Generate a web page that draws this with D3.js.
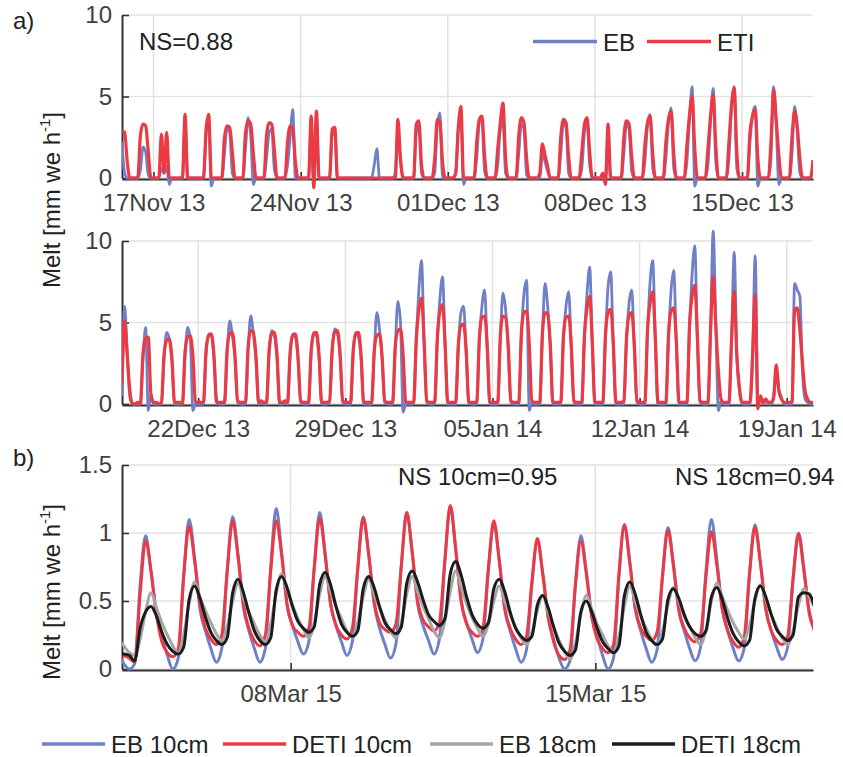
<!DOCTYPE html>
<html>
<head>
<meta charset="utf-8">
<script src="https://cdn.jsdelivr.net/npm/d3@7"></script>
<style>
  body { margin: 0; background: #fff; }
  svg { font-family: "Liberation Sans", Arial, sans-serif; }
  .axis text { font-family: "Liberation Sans", Arial, sans-serif; font-size: 24px; fill: #404040; }
  .axis .domain { stroke: #333; stroke-width: 2; }
  .axis .tick line { stroke: #333; stroke-width: 1.6; }
  .grid line { stroke: #e2e2e2; stroke-width: 1.5; }
  .label { font-size: 24px; fill: #222; }
</style>
</head>
<body>
<div id="chart"></div>
<script>
// ---------- data (3-hourly values) ----------
const STEP = 3 * 3600 * 1000;

// panel a (top): 15 Nov 2013 12:00 -> 18 Dec 2013 09:00, one row per day (00..21 h)
const startA1 = Date.UTC(2013, 10, 15, 12);
const etiA1 = [
  2.9, 2.8, 1.0, 0,
  0, 0, 0, 2.6, 3.3, 3.2, 1.6, 0,
  0, 0, 0, 2.7, 0.3, 2.8, 0, 0,
  0, 0, 0, 0, 3.9, 0, 0, 0,
  0, 0, 0, 0, 3.0, 3.9, 0, 0,
  0, 0, 0, 2.5, 3.2, 3.1, 1.6, 0,
  0, 0, 0, 2.8, 3.5, 3.3, 1.5, 0,
  0, 0, 0, 2.6, 3.4, 3.3, 1.7, 0,
  0, 0, 0, 2.2, 3.2, 3.0, 1.0, 0,
  0, 0, 0, 0, 3.8, -0.6, 4.1, 0,
  0, 0, 0, 0, 3.0, 3.1, 0, 0,
  0, 0, 0, 0, 0, 0, 0, 0,
  0, 0, 0, 0, 0, 0, 0, 0,
  0, 0, 0, 0, 0, 3.6, 1.2, 0,
  0, 0, 0, 0, 3.3, 3.5, 0.8, 0,
  0, 0, 0, 1.2, 3.6, 3.4, 1.0, 0,
  0, 0, 0, 0.3, 3.1, 4.4, 0, 0,
  0, 0, 0, 2.2, 3.6, 3.8, 1.4, 0,
  0, 0, 0, 1.8, 3.4, 4.6, 1.2, 0,
  0, 0, 0, 2.6, 3.7, 3.4, 1.2, 0,
  0, 0, 0, 0.3, 2.1, 1.4, 0.7, 0,
  0, 0, 0, 2.5, 3.6, 3.4, 1.3, 0,
  0, 0, 0, 1.6, 3.3, 3.7, 1.6, 0,
  0, 0, 0, 0.3, -0.4, 3.3, 0, 0,
  0, 0, 0, 2.5, 3.5, 3.3, 1.3, 0,
  0, 0, 0, 2.0, 3.4, 3.8, 1.5, 0,
  0, 0, 0, 2.2, 3.6, 4.1, 1.5, 0,
  0, 0, 0, 2.0, 3.9, 5.0, 1.8, 0,
  0, 0, 0, 1.8, 3.8, 5.1, 2.0, 0,
  0, 0, 0, 2.2, 4.5, 5.5, 1.6, 0,
  0, 0, 0, 2.8, 3.8, 4.2, 1.2, 0,
  0, 0, 0, 2.2, 5.4, 3.6, 1.4, 0,
  0, 0, 0, 2.5, 4.1, 3.2, 1.2, 0,
  0, 0, 0, 1.1
];
const ebA1 = [
  2.2, 0.3, 0, 0,
  0, 0, 0, 0.5, 1.9, 1.6, 0.2, 0,
  0, 0, 0, 0.6, 0.3, 0.7, -0.4, 0,
  0, 0, 0, 0, 3.4, 0, 0, 0,
  0, 0, 0, 0, 2.6, 3.6, -0.5, 0,
  0, 0, 0, 1.5, 3.1, 2.8, 0.3, 0,
  0, 0, 0, 1.8, 3.7, 2.6, -0.4, 0,
  0, 0, 0, 1.2, 2.8, 3.0, 0.5, 0,
  0, 0, 0, 0.8, 2.5, 4.2, 0, 0,
  0, 0, 0, 0, 3.2, -0.3, 3.6, 0,
  0, 0, 0, 0, 2.6, 2.9, 0, 0,
  0, 0, 0, 0, 0, 0, 0, 0,
  0, 0, 0, 0, 0.8, 1.8, 0, 0,
  0, 0, 0, 0, 0.3, 2.6, 1.0, 0,
  0, 0, 0, 0, 2.8, 3.2, 0.3, 0,
  0, 0, 0, 0.3, 3.2, 4.0, 0, 0,
  0, 0, 0, 0.3, 3.0, 3.6, -0.4, 0,
  0, 0, 0, 1.2, 3.4, 3.6, 0.4, 0,
  0, 0, 0, 0.8, 3.0, 3.5, 0.3, 0,
  0, 0, 0, 1.5, 3.3, 3.0, 0.2, 0,
  0, 0, 0, 0, 1.5, 1.0, 0.4, 0,
  0, 0, 0, 1.5, 3.4, 3.1, 0.3, 0,
  0, 0, 0, 0.6, 2.8, 3.5, 0.8, 0,
  0, 0, 0, 0.2, 0, 2.5, 0, 0,
  0, 0, 0, 1.5, 3.3, 3.0, 0.4, 0,
  0, 0, 0, 1.0, 3.2, 3.9, 0.6, 0,
  0, 0, 0, 1.2, 3.4, 4.3, 0.6, 0,
  0, 0, 0, 1.0, 3.6, 5.6, -0.5, 0,
  0, 0, 0, 0.8, 3.4, 5.5, 1.0, 0,
  0, 0, 0, 1.2, 4.3, 5.6, 0.6, 0,
  0, 0, 0, 2.2, 3.9, 4.4, -0.5, 0,
  0, 0, 0, 1.2, 5.6, 3.3, -0.4, 0,
  0, 0, 0, 1.5, 4.4, 2.8, 0.3, 0,
  0, 0, 0, 0.6
];

// panel a (bottom): 18 Dec 2013 09:00 -> 20 Jan 2014 06:00
const startA2 = Date.UTC(2013, 11, 18, 9);
const etiA2 = [
  1.2, 5.1, 3.0, 0.8, 0,
  0, 0.1, 0, 3.1, 4.0, 4.1, 0.6, 0.1,
  0.1, 0, 0.1, 3.0, 3.9, 4.0, 2.8, 0.1,
  0.1, 0.1, 0, 3.2, 4.1, 4.2, 2.9, 0.1,
  0.1, 0.1, 0.1, 3.3, 4.2, 4.3, 3.0, 0.1,
  0.1, 0.1, 0.1, 3.3, 4.3, 4.4, 3.0, 0.2,
  0.1, 0.1, 0.1, 3.5, 4.5, 4.4, 2.9, 0.1,
  0.2, 0.1, 0.1, 3.3, 4.3, 4.4, 3.0, 0.1,
  0.1, 0.2, 0.1, 3.2, 4.2, 4.3, 2.9, 0.2,
  0.1, 0.1, 0.1, 3.3, 4.3, 4.4, 3.0, 0.1,
  0.1, 0.1, 0.2, 3.4, 4.4, 4.5, 3.1, 0.2,
  0.1, 0.1, 0.1, 3.3, 4.3, 4.4, 3.0, 0.1,
  0.1, 0.1, 0.1, 3.2, 4.2, 4.3, 2.9, 0.2,
  0.1, 0.1, 0.1, 3.5, 4.5, 4.6, 3.0, 0.1,
  0.1, 0.1, 0.1, 4.0, 5.8, 6.5, 3.8, 0.2,
  0.1, 0.1, 0.1, 4.0, 5.7, 6.1, 3.6, 0.1,
  0.1, 0.1, 0.1, 3.6, 4.8, 4.9, 3.3, 0.1,
  0.1, 0.1, 0.1, 4.0, 5.3, 5.4, 3.6, 0.1,
  0.1, 0.1, 0.1, 4.2, 5.4, 5.3, 3.6, 0.2,
  0.1, 0.1, 0.1, 4.3, 5.6, 5.7, 3.7, 0.2,
  0.1, 0.1, 0.1, 4.3, 5.6, 5.5, 3.7, 0.1,
  0.1, 0.1, 0.1, 4.1, 5.3, 5.4, 3.6, 0.2,
  0.1, 0.1, 0.1, 4.2, 5.9, 6.6, 3.8, 0.1,
  0.1, 0.1, 0.1, 4.2, 5.6, 5.8, 3.7, 0.1,
  0.1, 0.1, 0.2, 4.0, 5.4, 5.6, 3.6, 0.2,
  0.1, 0.1, 0.1, 4.5, 6.2, 6.9, 4.0, 0.1,
  0.1, 0.1, 0.1, 4.2, 5.7, 5.9, 3.8, 0.1,
  0.1, 0.1, 0.1, 4.8, 6.6, 7.3, 4.1, 0.2,
  0.1, 0.1, 0.1, 4.5, 7.8, 4.8, 2.0, 0.3,
  0.1, 0.1, 0.1, 4.0, 6.9, 3.0, 1.0, 0.1,
  0.1, 0.1, 0.1, 3.0, 6.7, -0.3, 0.5, 0.1,
  0.3, 0.1, 0.1, 0.4, 2.4, 0.8, 0.3, 0.1,
  0.1, 0.1, 0.1, 5.7, 5.9, 4.5, 2.5, 0.8,
  0.3, 0.1, 0.1
];
const ebA2 = [
  0.5, 6.0, 3.0, 0.4, 0,
  0, 0, 0, 2.8, 4.7, -0.4, 0.6, 0,
  0, 0, 0, 2.8, 4.4, 4.0, 2.6, 0,
  0, 0, 0, 3.0, 4.7, 4.0, -0.4, 0,
  0, 0, 0, 3.1, 4.3, 4.2, 2.8, 0.2,
  0, 0, 0, 3.1, 5.1, 4.2, 2.8, 0.1,
  0, 0, 0, 3.3, 5.4, 4.3, 2.7, 0,
  0.1, 0, 0, 3.1, 4.5, 4.2, 2.8, 0,
  0, 0.1, 0, 3.0, 4.3, 4.1, 2.7, 0.1,
  0, 0, 0, 3.1, 4.4, 4.2, 2.8, 0,
  0, 0, 0.1, 3.2, 4.6, 4.3, 2.9, 0.1,
  0, 0, 0, 3.1, 4.4, 4.1, 2.8, 0,
  0, 0, 0, 3.2, 5.6, 4.6, 2.8, 0.1,
  0, 0, 0, 3.4, 6.3, 5.0, -0.5, 0,
  0, 0, 0, 3.8, 7.0, 8.8, 3.6, 0.1,
  0, 0, 0, 3.8, 6.5, 7.8, 3.4, 0,
  0, 0, 0, 3.4, 5.6, 6.0, 3.1, 0.1,
  0, 0, 0, 3.8, 6.0, 7.0, 3.4, 0,
  0, 0, 0, 4.0, 6.8, 5.8, 3.4, 0.1,
  0, 0, 0, 4.1, 6.8, 7.6, -0.4, 0.1,
  0, 0, 0, 4.1, 7.4, 6.0, 3.5, 0,
  0, 0, 0, 3.9, 6.0, 6.9, 3.4, 0.1,
  0, 0, 0, 4.0, 6.8, 8.4, 3.6, 0,
  0, 0, 0, 4.0, 7.2, 8.1, 3.5, 0,
  0, 0, 0, 3.8, 6.2, 7.0, 3.4, 0.1,
  0, 0, 0, 4.3, 7.5, 8.8, 3.8, 0,
  0, 0, 0, 4.0, 7.0, 8.2, 3.6, 0,
  0, 0, 0, 4.6, 8.0, 9.7, 3.9, 0.1,
  0, 0, 0, 4.3, 10.6, 5.0, -0.4, 0.2,
  0, 0, 0, 3.8, 9.3, 3.0, 0.8, 0,
  0, 0, 0, 2.8, 9.1, 0.4, 0.4, 0,
  0.2, 0, 0, 0.3, 2.2, 0.9, 0.4, 0,
  0, 0, 0, 7.4, 7.0, 6.6, 2.0, 0.3,
  0.1, 0, 0
];

// panel b: 04 Mar 2015 01:00 -> 20 Mar 2015 01:00, rows = 01,04,...,22 h
const startB = Date.UTC(2015, 2, 4, 1);
const eb10B = [
  0.12, 0.04, 0.00, 0.04, 0.62, 0.98, 0.72, 0.40,
  0.24, 0.10, 0.00, 0.08, 0.68, 1.10, 0.82, 0.44,
  0.28, 0.15, 0.05, 0.15, 0.72, 1.12, 0.84, 0.45,
  0.28, 0.15, 0.05, 0.15, 0.75, 1.18, 0.86, 0.47,
  0.32, 0.20, 0.11, 0.20, 0.75, 1.15, 0.85, 0.48,
  0.32, 0.20, 0.10, 0.20, 0.74, 1.12, 0.84, 0.48,
  0.30, 0.18, 0.08, 0.18, 0.75, 1.15, 0.86, 0.48,
  0.32, 0.21, 0.11, 0.22, 0.78, 1.20, 0.88, 0.50,
  0.34, 0.22, 0.12, 0.22, 0.72, 1.07, 0.80, 0.44,
  0.28, 0.15, 0.05, 0.14, 0.62, 0.94, 0.70, 0.38,
  0.22, 0.08, 0.00, 0.06, 0.62, 0.98, 0.72, 0.40,
  0.24, 0.10, 0.00, 0.08, 0.68, 1.06, 0.78, 0.44,
  0.28, 0.15, 0.05, 0.14, 0.68, 1.04, 0.78, 0.43,
  0.28, 0.15, 0.06, 0.16, 0.72, 1.10, 0.80, 0.44,
  0.28, 0.15, 0.06, 0.15, 0.70, 1.06, 0.78, 0.44,
  0.28, 0.16, 0.07, 0.16, 0.66, 1.00, 0.74, 0.40,
  0.30
];
const deti10B = [
  0.12, 0.10, 0.08, 0.05, 0.55, 0.94, 0.72, 0.40,
  0.20, 0.12, 0.09, 0.15, 0.68, 1.05, 0.80, 0.48,
  0.30, 0.22, 0.18, 0.25, 0.72, 1.09, 0.82, 0.47,
  0.30, 0.21, 0.17, 0.25, 0.72, 1.09, 0.84, 0.48,
  0.32, 0.27, 0.24, 0.30, 0.74, 1.11, 0.84, 0.48,
  0.32, 0.25, 0.22, 0.30, 0.74, 1.11, 0.85, 0.50,
  0.34, 0.29, 0.27, 0.33, 0.76, 1.15, 0.86, 0.50,
  0.36, 0.31, 0.28, 0.34, 0.80, 1.20, 0.88, 0.50,
  0.33, 0.27, 0.24, 0.30, 0.74, 1.09, 0.80, 0.45,
  0.30, 0.22, 0.18, 0.24, 0.64, 0.96, 0.70, 0.38,
  0.20, 0.10, 0.07, 0.14, 0.62, 0.94, 0.70, 0.38,
  0.22, 0.15, 0.12, 0.18, 0.70, 1.06, 0.78, 0.45,
  0.30, 0.24, 0.21, 0.27, 0.68, 1.02, 0.76, 0.44,
  0.30, 0.23, 0.20, 0.26, 0.68, 1.01, 0.76, 0.44,
  0.28, 0.20, 0.16, 0.23, 0.70, 1.04, 0.78, 0.44,
  0.28, 0.21, 0.18, 0.24, 0.66, 0.99, 0.72, 0.42,
  0.27
];
const eb18B = [
  0.22, 0.17, 0.12, 0.10, 0.22, 0.42, 0.56, 0.45,
  0.34, 0.25, 0.17, 0.12, 0.25, 0.48, 0.64, 0.53,
  0.43, 0.34, 0.26, 0.21, 0.31, 0.50, 0.63, 0.52,
  0.42, 0.33, 0.25, 0.20, 0.33, 0.55, 0.70, 0.58,
  0.47, 0.37, 0.29, 0.23, 0.34, 0.55, 0.68, 0.57,
  0.46, 0.37, 0.28, 0.23, 0.34, 0.53, 0.66, 0.55,
  0.45, 0.36, 0.28, 0.23, 0.34, 0.55, 0.68, 0.57,
  0.46, 0.37, 0.28, 0.23, 0.35, 0.57, 0.72, 0.60,
  0.48, 0.38, 0.30, 0.24, 0.33, 0.50, 0.61, 0.50,
  0.40, 0.31, 0.23, 0.18, 0.27, 0.43, 0.54, 0.42,
  0.31, 0.21, 0.13, 0.07, 0.19, 0.40, 0.54, 0.44,
  0.33, 0.25, 0.17, 0.12, 0.24, 0.46, 0.61, 0.50,
  0.39, 0.30, 0.22, 0.17, 0.28, 0.47, 0.60, 0.50,
  0.39, 0.31, 0.23, 0.18, 0.29, 0.50, 0.63, 0.53,
  0.43, 0.34, 0.27, 0.22, 0.32, 0.50, 0.62, 0.51,
  0.40, 0.31, 0.23, 0.18, 0.28, 0.47, 0.59, 0.53,
  0.45
];
const deti18B = [
  0.11, 0.11, 0.10, 0.06, 0.30, 0.42, 0.46, 0.39,
  0.27, 0.18, 0.13, 0.11, 0.16, 0.51, 0.61, 0.52,
  0.38, 0.27, 0.21, 0.18, 0.23, 0.56, 0.66, 0.56,
  0.41, 0.28, 0.21, 0.18, 0.23, 0.58, 0.68, 0.60,
  0.46, 0.35, 0.30, 0.27, 0.31, 0.62, 0.71, 0.62,
  0.46, 0.33, 0.27, 0.24, 0.28, 0.59, 0.68, 0.60,
  0.46, 0.34, 0.29, 0.26, 0.31, 0.63, 0.72, 0.64,
  0.51, 0.40, 0.35, 0.32, 0.37, 0.70, 0.79, 0.69,
  0.53, 0.40, 0.33, 0.30, 0.34, 0.59, 0.66, 0.57,
  0.42, 0.30, 0.24, 0.21, 0.24, 0.47, 0.54, 0.45,
  0.31, 0.19, 0.13, 0.10, 0.14, 0.42, 0.50, 0.42,
  0.30, 0.20, 0.15, 0.12, 0.17, 0.54, 0.64, 0.55,
  0.40, 0.27, 0.21, 0.18, 0.22, 0.51, 0.59, 0.52,
  0.40, 0.31, 0.26, 0.24, 0.28, 0.53, 0.60, 0.51,
  0.37, 0.26, 0.20, 0.17, 0.21, 0.52, 0.61, 0.53,
  0.40, 0.29, 0.24, 0.21, 0.25, 0.53, 0.56, 0.55,
  0.45
];

// ticks
const ticksA1 = ["2013-11-17", "2013-11-24", "2013-12-01", "2013-12-08", "2013-12-15"];
const ticksA2 = ["2013-12-22", "2013-12-29", "2014-01-05", "2014-01-12", "2014-01-19"];
const ticksB = ["2015-03-08", "2015-03-15"];
const yTicksA = [0, 5, 10];
const yTicksB = [0, 0.5, 1, 1.5];

const legendA = ["EB", "ETI"];
const legendB = ["EB 10cm", "DETI 10cm", "EB 18cm", "DETI 18cm"];
const colorsA = ["#6f80c6", "#ec3a44"];
const colorsB = ["#6f80c6", "#ec3a44", "#a6a6a6", "#1c1c1c"];

// ---------- drawing ----------
const W = 843, H = 757;
const svg = d3.select("#chart").append("svg").attr("width", W).attr("height", H);

function makeSeries(start, values) {
  return values.map((v, i) => ({ t: new Date(start + i * STEP), v: v }));
}
function toDate(s) { return new Date(s + "T00:00:00Z"); }

function drawPanel(cfg) {
  const g = svg.append("g").attr("transform", `translate(${cfg.left},${cfg.top})`);
  const x = d3.scaleUtc().domain(cfg.xDomain).range([0, cfg.width]);
  const y = d3.scaleLinear().domain(cfg.yDomain).range([cfg.height, 0]);
  const xTicks = cfg.xTicks.map(toDate);

  // grid
  const grid = g.append("g").attr("class", "grid");
  grid.selectAll(".gy").data(cfg.yTicks).join("line").attr("class", "gy")
    .attr("x1", 0).attr("x2", cfg.width)
    .attr("y1", d => y(d)).attr("y2", d => y(d));
  grid.selectAll(".gx").data(xTicks).join("line").attr("class", "gx")
    .attr("x1", d => x(d)).attr("x2", d => x(d))
    .attr("y1", 0).attr("y2", cfg.height);

  // axes
  g.append("g").attr("class", "axis")
    .attr("transform", `translate(0,${cfg.height + 1})`)
    .call(d3.axisBottom(x).tickValues(xTicks).tickFormat(d3.utcFormat("%d%b %y"))
      .tickSize(-7).tickSizeOuter(0).tickPadding(15));
  g.append("g").attr("class", "axis")
    .call(d3.axisLeft(y).tickValues(cfg.yTicks).tickFormat(d3.format("~g"))
      .tickSize(-7).tickSizeOuter(0).tickPadding(10));

  // clip only horizontally
  const clipId = "clip" + cfg.top;
  g.append("clipPath").attr("id", clipId).append("rect")
    .attr("x", 0).attr("y", -40).attr("width", cfg.width).attr("height", cfg.height + 80);

  const line = d3.line().x(d => x(d.t)).y(d => y(d.v)).curve(d3.curveMonotoneX);
  const lines = g.append("g").attr("clip-path", `url(#${clipId})`);
  cfg.series.forEach((s, i) => {
    lines.append("path")
      .datum(s)
      .attr("fill", "none")
      .attr("stroke", cfg.colors[i])
      .attr("stroke-width", cfg.lineWidth[i])
      .attr("stroke-linejoin", "round")
      .attr("d", line);
  });
}

const left = 122, width = 691;

drawPanel({
  left: left, top: 15, width: width, height: 163,
  xDomain: [new Date(startA1), new Date(startA1 + (ebA1.length - 1) * STEP)],
  yDomain: [0, 10], xTicks: ticksA1, yTicks: yTicksA,
  series: [makeSeries(startA1, ebA1), makeSeries(startA1, etiA1)],
  colors: colorsA, lineWidth: [2.8, 3.2]
});
drawPanel({
  left: left, top: 241, width: width, height: 163,
  xDomain: [new Date(startA2), new Date(startA2 + (ebA2.length - 1) * STEP)],
  yDomain: [0, 10], xTicks: ticksA2, yTicks: yTicksA,
  series: [makeSeries(startA2, ebA2), makeSeries(startA2, etiA2)],
  colors: colorsA, lineWidth: [2.8, 3.2]
});
drawPanel({
  left: left, top: 465, width: width, height: 204,
  xDomain: [new Date(Date.UTC(2015, 2, 4, 3)), new Date(Date.UTC(2015, 2, 20, 0))],
  yDomain: [0, 1.5], xTicks: ticksB, yTicks: yTicksB,
  series: [makeSeries(startB, eb10B), makeSeries(startB, deti10B),
           makeSeries(startB, eb18B), makeSeries(startB, deti18B)],
  colors: colorsB, lineWidth: [3, 3, 3, 3]
});

// panel letters and NS annotations
svg.append("text").attr("class", "label").attr("x", 13).attr("y", 29).text("a)");
svg.append("text").attr("class", "label").attr("x", 13).attr("y", 466).text("b)");
svg.append("text").attr("class", "label").attr("x", 139).attr("y", 50).text("NS=0.88");
svg.append("text").attr("class", "label").attr("x", 398).attr("y", 485).text("NS 10cm=0.95");
svg.append("text").attr("class", "label").attr("x", 675).attr("y", 485).text("NS 18cm=0.94");

// y labels
function yLabel(cx, cy) {
  const t = svg.append("text").attr("class", "label")
    .attr("transform", `translate(${cx},${cy}) rotate(-90)`)
    .attr("text-anchor", "middle");
  t.append("tspan").text("Melt [mm we h");
  t.append("tspan").attr("font-size", 15).attr("dy", -10).text("-1");
  t.append("tspan").attr("dy", 10).text("]");
}
yLabel(60, 200);
yLabel(60, 592);

// legend panel a
const legAx = [533, 647];
legendA.forEach((name, i) => {
  svg.append("line").attr("x1", legAx[i]).attr("x2", legAx[i] + 64)
    .attr("y1", 41.5).attr("y2", 41.5)
    .attr("stroke", colorsA[i]).attr("stroke-width", 3.5);
  svg.append("text").attr("class", "label").attr("x", legAx[i] + 70).attr("y", 50.5).text(name);
});

// legend panel b
const legBx = [42, 223, 430, 612];
legendB.forEach((name, i) => {
  svg.append("line").attr("x1", legBx[i]).attr("x2", legBx[i] + 63)
    .attr("y1", 744).attr("y2", 744)
    .attr("stroke", colorsB[i]).attr("stroke-width", 3.5);
  svg.append("text").attr("class", "label").attr("x", legBx[i] + 69).attr("y", 753).text(name);
});
</script>
</body>
</html>
